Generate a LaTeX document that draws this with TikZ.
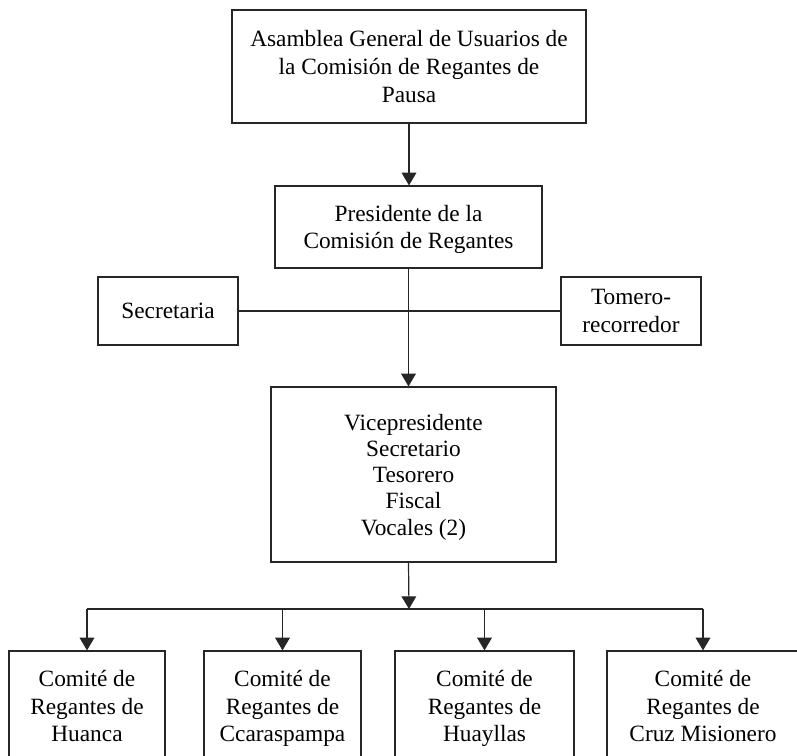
\documentclass[tikz,border=0pt]{standalone}
\usepackage{fontspec}
\setmainfont{Liberation Serif}
\usetikzlibrary{arrows.meta}

\begin{document}
\begin{tikzpicture}[x=0.75pt,y=-0.75pt,
    caja/.style={draw=black!85,line width=0.9pt,align=center,inner sep=0pt,
      font=\fontsize{17.5}{20.5}\selectfont,text depth=0pt},
    linea/.style={draw=black!85,line width=0.9pt},
    flecha/.style={linea,-{Triangle[length=9.5pt,width=11pt]}}
  ]
  \useasboundingbox (0,0) rectangle (797,756);

  % organos de la comision
  \node[caja,text depth=-6pt,font=\fontsize{17.5}{21.3}\selectfont,
    minimum width=265.5pt,minimum height=84.75pt] (asamblea) at (409,66.5)
    {Asamblea General de Usuarios de\\la Comisión de Regantes de\\Pausa};
  \node[caja,minimum width=200.25pt,minimum height=61.5pt] (presidente) at (408.5,227)
    {Presidente de la\\Comisión de Regantes};
  \node[caja,minimum width=105pt,minimum height=51pt] (secretaria) at (168,311)
    {Secretaria};
  \node[caja,minimum width=105pt,minimum height=51pt] (tomero) at (631,311)
    {Tomero-\\recorredor};
  \node[caja,text depth=-10pt,font=\fontsize{17.5}{19.7}\selectfont,
    minimum width=213.75pt,minimum height=131.25pt] (directiva) at (413.5,474.5)
    {Vicepresidente\\Secretario\\Tesorero\\Fiscal\\Vocales (2)};

  % comites
  \node[caja,minimum width=117pt,minimum height=82.5pt] (huanca) at (87,706)
    {Comité de\\Regantes de\\Huanca};
  \node[caja,minimum width=117.75pt,minimum height=82.5pt] (ccaraspampa) at (282.5,706)
    {Comité de\\Regantes de\\Ccaraspampa};
  \node[caja,minimum width=134.25pt,minimum height=82.5pt] (huayllas) at (484.5,706)
    {Comité de\\Regantes de\\Huayllas};
  \node[caja,minimum width=144pt,minimum height=82.5pt] (cruz) at (703,706)
    {Comité de\\Regantes de\\Cruz Misionero};

  \coordinate (bus) at (409,609);

  \draw[flecha] (asamblea.south) -- (asamblea.south |- presidente.north);
  \draw[flecha] (presidente.south) -- (presidente.south |- directiva.north);
  \draw[linea] (secretaria.east) -- (tomero.west);
  \draw[flecha] (presidente.south |- directiva.south) -- (bus);
  \draw[linea] (huanca.north |- bus) -- (cruz.north |- bus);
  \foreach \c in {huanca,ccaraspampa,huayllas,cruz}
    \draw[flecha] (\c.north |- bus) -- (\c.north);
\end{tikzpicture}
\end{document}
